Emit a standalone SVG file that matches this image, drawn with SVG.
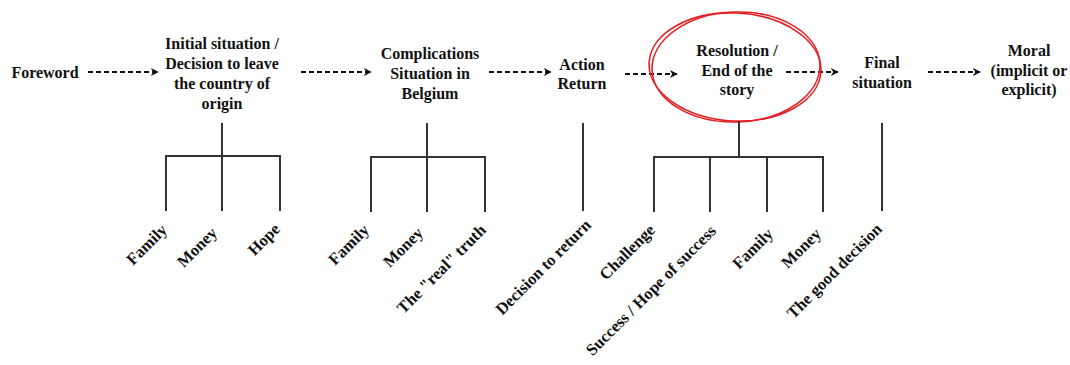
<svg xmlns="http://www.w3.org/2000/svg" width="1070" height="365" viewBox="0 0 1070 365">
<style>
text{font-family:"Liberation Serif","Times New Roman",serif;font-weight:bold;font-size:16px;fill:#111}
.t{text-anchor:middle}
.l{text-anchor:end;font-size:16.5px}
.tree{stroke:#333;stroke-width:2;fill:none}
.arr{stroke:#111;stroke-width:2;stroke-dasharray:5 3;fill:none;marker-end:url(#ah)}
.red{fill:none;stroke:#e31e24;stroke-width:1.6}
</style>
<defs>
<marker id="ah" viewBox="0 0 10 10" refX="9" refY="5" markerWidth="8" markerHeight="8" orient="auto" markerUnits="userSpaceOnUse">
<path d="M0,0 L10,5 L0,10 L3,5 Z" fill="#111"/>
</marker>
</defs>
<rect width="1070" height="365" fill="#fff"/>
<g id="connectors">
<line class="arr" x1="88" y1="72" x2="158" y2="72"/>
<line class="arr" x1="301" y1="72" x2="371" y2="72"/>
<line class="arr" x1="489" y1="72" x2="551" y2="72"/>
<line class="arr" x1="625" y1="74" x2="677" y2="74"/>
<line class="arr" x1="786" y1="72" x2="838" y2="72"/>
<line class="arr" x1="928" y1="72" x2="980" y2="72"/>
</g>
<g id="foreword"><text x="45" y="78" class="t">Foreword</text></g>
<g id="initial">
<text x="222" y="49" class="t">Initial situation /</text>
<text x="222" y="69" class="t">Decision to leave</text>
<text x="222" y="89" class="t">the country of</text>
<text x="222" y="109" class="t">origin</text>
</g>
<g id="complications">
<text x="430" y="59" class="t">Complications</text>
<text x="430" y="79" class="t">Situation in</text>
<text x="430" y="99" class="t">Belgium</text>
</g>
<g id="action">
<text x="582" y="70" class="t">Action</text>
<text x="582" y="89" class="t">Return</text>
</g>
<g id="resolution">
<ellipse class="red" cx="735" cy="67" rx="86" ry="54" transform="rotate(3 735 67)"/>
<ellipse class="red" cx="736" cy="67" rx="84" ry="55" transform="rotate(-2 736 67)"/>
<text x="737" y="56" class="t">Resolution /</text>
<text x="737" y="76" class="t">End of the</text>
<text x="737" y="95" class="t">story</text>
</g>
<g id="final">
<text x="882" y="68" class="t">Final</text>
<text x="882" y="88" class="t">situation</text>
</g>
<g id="moral">
<text x="1029" y="56" class="t">Moral</text>
<text x="1029" y="76" class="t">(implicit or</text>
<text x="1029" y="95" class="t">explicit)</text>
</g>
<g id="tree-initial">
<path class="tree" d="M222,123 V211 M166,211 V156 H280 V211"/>
<text class="l" transform="translate(168,231) rotate(-45)">Family</text>
<text class="l" transform="translate(218,234) rotate(-45)">Money</text>
<text class="l" transform="translate(281,230) rotate(-45)">Hope</text>
</g>
<g id="tree-complications">
<path class="tree" d="M427,123 V212 M371,212 V157 H485 V212"/>
<text class="l" transform="translate(370,231) rotate(-45)">Family</text>
<text class="l" transform="translate(424,234) rotate(-45)">Money</text>
<text class="l" transform="translate(487,231) rotate(-45)">The "real" truth</text>
</g>
<g id="tree-action">
<path class="tree" d="M583,123 V211"/>
<text class="l" transform="translate(592,226) rotate(-45)">Decision to return</text>
</g>
<g id="tree-resolution">
<path class="tree" d="M739,121 V157 M654,212 V157 H823 V212 M710,157 V212 M767,157 V212"/>
<text class="l" transform="translate(656,231) rotate(-45)">Challenge</text>
<text class="l" transform="translate(717,232) rotate(-45)">Success / Hope of success</text>
<text class="l" transform="translate(774,235) rotate(-45)">Family</text>
<text class="l" transform="translate(822,235) rotate(-45)">Money</text>
<text class="l" transform="translate(883,230) rotate(-45)">The good decision</text>
</g>
<g id="tree-final">
<path class="tree" d="M882,123 V211"/>
</g>
</svg>
